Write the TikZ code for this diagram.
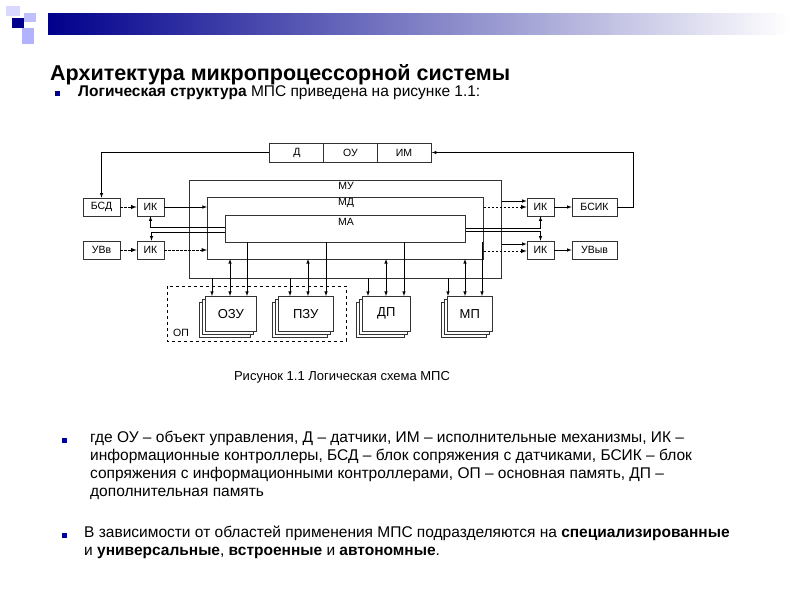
\documentclass[tikz,border=0pt]{standalone}
\usepackage{fontspec}
\setmainfont{Liberation Sans}
\begin{document}
\begin{tikzpicture}[x=1pt,y=-1pt,
 bx/.style={draw=black!80,line width=0.6pt,fill=white,inner sep=0pt,font=\fontsize{10.5}{11}\selectfont},
 lb/.style={font=\fontsize{10.5}{11}\selectfont,inner sep=1pt},
 ar/.style={-latex,line width=0.6pt},
 dar/.style={-latex,line width=0.9pt,dash pattern=on 2.5pt off 1.5pt},
 bul/.style={fill=blue!60!black,minimum size=5pt,inner sep=0pt},
 txt/.style={anchor=west,font=\fontsize{15.5}{18}\selectfont,inner sep=0pt}]
\useasboundingbox (0,0) rectangle (800,600);
% header
\shade[left color=blue!55!black,right color=white] (48,13) rectangle (790,34);
\fill[blue!55!black] (12,18) rectangle (24,28);
\fill[blue!25] (24,13) rectangle (36,22);
\fill[blue!30] (22,28) rectangle (34,44);
\fill[blue!15] (6,6) rectangle (20,16);
% title
\node[txt,font=\bfseries\fontsize{21.5}{24}\selectfont] (title) at (50,75) {Архитектура микропроцессорной системы};
\node[bul] (b1) at (57,93) {};
\node[txt] (t1) at (78,93) {\textbf{Логическая структура} МПС приведена на рисунке 1.1:};
% diagram
\node[bx,minimum width=162pt,minimum height=19pt] (top) at (350.5,152.5) {};
\node[lb] (dd) at (297,152.5) {Д};
\node[lb] (ou) at (350.5,152.5) {ОУ};
\node[lb] (im) at (404,152.5) {ИМ};
\draw[black!80,line width=0.6pt] (323,143) -- (323,162) (377,143) -- (377,162);
\node[bx,minimum width=312pt,minimum height=98pt,anchor=north west] (mu) at (189,180) {};
\node[lb] (mut) at (346,186) {МУ};
\node[bx,minimum width=276pt,minimum height=62pt,anchor=north west] (md) at (207,197) {};
\node[lb] (mdt) at (346,203) {МД};
\node[bx,minimum width=240pt,minimum height=27pt,anchor=north west] (ma) at (225,215) {};
\node[lb] (mat) at (346,222) {МА};
\node[bx,minimum width=37pt,minimum height=18pt] (bsd) at (101.5,207) {БСД};
\node[bx,minimum width=27pt,minimum height=18pt] (ik1) at (150.5,207) {ИК};
\node[bx,minimum width=37pt,minimum height=18pt] (uvv) at (101.5,250) {УВв};
\node[bx,minimum width=27pt,minimum height=18pt] (ik2) at (150.5,250) {ИК};
\node[bx,minimum width=27pt,minimum height=18pt] (ik3) at (540.5,207) {ИК};
\node[bx,minimum width=45pt,minimum height=18pt] (bsik) at (594.5,207) {БСИК};
\node[bx,minimum width=27pt,minimum height=18pt] (ik4) at (540.5,250) {ИК};
\node[bx,minimum width=45pt,minimum height=18pt] (uvyv) at (594.5,250) {УВыв};
% OP dashed
\draw[dashed,line width=0.8pt] (167,286) rectangle (346,341);
\node[lb,anchor=south west] (op) at (172,338) {ОП};
% stacked memory
\foreach \n/\xa/\xb/\t in {ozu/205/256/ОЗУ,pzu/278/333/ПЗУ,dp/362/410/ДП,mp/447/492/МП}{
 \draw[fill=white,draw=black!80] (\xa-6,302) rectangle (\xb-6,337);
 \draw[fill=white,draw=black!80] (\xa-3,299) rectangle (\xb-3,334);
 \node[bx,minimum width=\xb-\xa,minimum height=35pt,anchor=north west,font=\fontsize{13}{14}\selectfont] (\n) at (\xa,296) {\t};
}
% feedback loops
\draw[ar] (top.west) -| (bsd.north);
\draw[ar] (bsik.east) -- (633,207) |- (top.east);
% left side
\draw[dar] (bsd) -- (ik1);
\draw[ar] (ik1) -- (md.west |- ik1);
\draw[dar] (uvv) -- (ik2);
\draw[dar] (ik2) -- (md.west |- ik2);
\draw[ar] (ma.west |- 0,227) -| (ik1.south);
\draw[ar] (ma.west |- 0,232) -| ([xshift=1pt]ik2.north);
% right side
\draw[ar] (mu.east |- 0,201) -- (ik3.west |- 0,201);
\draw[dar] (md.east |- 0,207) -- (ik3.west |- 0,207);
\draw[ar] (mu.east |- 0,244) -- (ik4.west |- 0,244);
\draw[dar] (md.east |- 0,251) -- (ik4.west |- 0,251);
\draw[ar] (ik3) -- (bsik);
\draw[ar] (ik4) -- (uvyv);
\draw[ar] (ma.east |- 0,228) -| (ik3.south);
\draw[ar] (ma.east |- 0,231) -| (ik4.north);
% bus arrows
\foreach \n/\a/\b/\c in {ozu/212/230/247,pzu/290/308/326,dp/368/386/404,mp/448/465/482}{
 \draw[ar] (\c,242) -- (\c,296);
 \draw[ar] (\a,278) -- (\a,296);
 \draw[latex-latex,line width=0.6pt] (\b,259) -- (\b,296);
}
% caption
\node[font=\fontsize{13}{15}\selectfont] (cap) at (342,377) {Рисунок 1.1 Логическая схема МПС};
% texts
\node[bul] (b2) at (64,440) {};
\node[txt,align=left,anchor=north west] (p1) at (90,431) {где ОУ – объект управления, Д – датчики, ИМ – исполнительные механизмы, ИК –\\информационные контроллеры, БСД – блок сопряжения с датчиками, БСИК – блок\\сопряжения с информационными контроллерами, ОП – основная память, ДП –\\дополнительная память};
\node[bul] (b3) at (64,535) {};
\node[txt,align=left,anchor=north west] (p2) at (84,526) {В зависимости от областей применения МПС подразделяются на \textbf{специализированные}\\и \textbf{универсальные}, \textbf{встроенные} и \textbf{автономные}.};
\end{tikzpicture}
\end{document}
